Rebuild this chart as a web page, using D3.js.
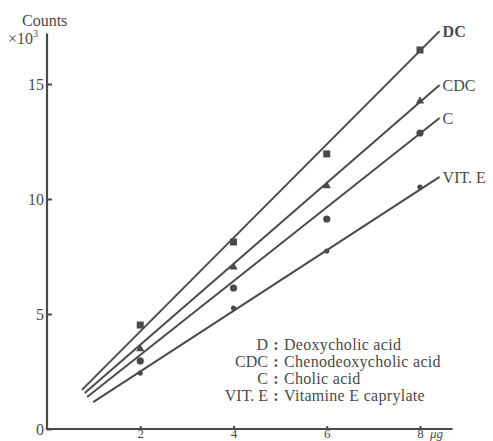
<!DOCTYPE html>
<html><head><meta charset="utf-8">
<script src="https://cdn.jsdelivr.net/npm/d3@7"></script>
<style>
html,body{margin:0;padding:0;background:#fff;}
svg{display:block;font-family:"Liberation Serif","DejaVu Serif",serif;}
</style></head>
<body><svg id="c" width="493" height="441"></svg>
<script>
// ---- data ----
const doses = [2, 4, 6, 8];                 // µg
const seriesNames = ["DC", "CDC", "C", "VIT. E"];
const dcCounts   = [4.52, 8.13, 11.96, 16.48];   // ×10^3
const cdcCounts  = [3.48, 7.04, 10.57, 14.26];
const cCounts    = [2.96, 6.13, 9.13, 12.87];
const viteCounts = [2.43, 5.26, 7.74, 10.52];
// fitted line end points [x0, y0, x1, y1]
const dcLine   = [0.75, 1.70, 8.42, 17.30];
const cdcLine  = [0.81, 1.57, 8.42, 14.96];
const cLine    = [0.86, 1.39, 8.42, 13.52];
const viteLine = [0.99, 1.17, 8.42, 10.96];
const yTicks = [0, 5, 10, 15];
const xTicks = [2, 4, 6, 8];
const legendKeys = ["D", "CDC", "C", "VIT. E"];
const legendTexts = ["Deoxycholic acid", "Chenodeoxycholic acid", "Cholic acid", "Vitamine E caprylate"];

const ink = "#4a4a4a";
const svg = d3.select("#c");
const x = d3.scaleLinear().domain([0, 8]).range([47, 420]);
const y = d3.scaleLinear().domain([0, 15]).range([429, 84]);

// axes
const yAxis = d3.axisLeft(y).tickValues(yTicks).tickSizeInner(-5).tickSizeOuter(0).tickPadding(3);
const gy = svg.append("g").attr("transform", `translate(${x(0)},0)`).call(yAxis);
gy.select(".domain").remove();
gy.selectAll(".tick line").attr("stroke", ink).attr("stroke-width", 2);
gy.selectAll(".tick text").attr("fill", ink).attr("font-size", 16).attr("font-family", "Liberation Serif");
svg.append("line").attr("x1", x(0)).attr("x2", x(0)).attr("y1", y(0) + 1).attr("y2", y(17.2))
  .attr("stroke", ink).attr("stroke-width", 2.2);

const xAxis = d3.axisBottom(x).tickValues(xTicks).tickSizeInner(-3).tickSizeOuter(0).tickPadding(0);
const gx = svg.append("g").attr("transform", `translate(0,${y(0)})`).call(xAxis);
gx.select(".domain").remove();
gx.selectAll(".tick line").attr("stroke", ink).attr("stroke-width", 2);
gx.selectAll(".tick text").attr("fill", ink).attr("font-size", 13).attr("font-family", "Liberation Serif");
svg.append("line").attr("x1", x(0) - 1).attr("x2", x(8.7)).attr("y1", y(0)).attr("y2", y(0))
  .attr("stroke", ink).attr("stroke-width", 2.2);
svg.append("text").attr("x", x(8) + 10).attr("y", y(0) + 9).attr("fill", ink)
  .attr("font-size", 13).attr("font-style", "italic").text("μg");

// axis title
svg.append("text").attr("x", 22).attr("y", 26).attr("fill", ink).attr("font-size", 16).text("Counts");
const t10 = svg.append("text").attr("x", 8).attr("y", 44).attr("fill", ink).attr("font-size", 16);
t10.append("tspan").text("×10");
t10.append("tspan").attr("dy", -7).attr("font-size", 10).text("3");

// lines
const lines = [dcLine, cdcLine, cLine, viteLine];
svg.append("g").selectAll("line").data(lines).join("line")
  .attr("x1", d => x(d[0])).attr("y1", d => y(d[1]))
  .attr("x2", d => x(d[2])).attr("y2", d => y(d[3]))
  .attr("stroke", ink).attr("stroke-width", 2);

// points
const zip = vals => doses.map((d, i) => ({x: d, y: vals[i]}));
svg.append("g").selectAll("rect").data(zip(dcCounts)).join("rect")
  .attr("x", d => x(d.x) - 3.5).attr("y", d => y(d.y) - 3.5).attr("width", 7).attr("height", 7).attr("fill", ink);
svg.append("g").selectAll("path").data(zip(cdcCounts)).join("path")
  .attr("transform", d => `translate(${x(d.x)},${y(d.y)})`)
  .attr("d", d3.symbol(d3.symbolTriangle, 30)).attr("fill", ink);
svg.append("g").selectAll("circle").data(zip(cCounts)).join("circle")
  .attr("cx", d => x(d.x)).attr("cy", d => y(d.y)).attr("r", 3.6).attr("fill", ink);
svg.append("g").selectAll("circle").data(zip(viteCounts)).join("circle")
  .attr("cx", d => x(d.x)).attr("cy", d => y(d.y)).attr("r", 2.6).attr("fill", ink);

// end labels
svg.append("g").selectAll("text").data(lines).join("text")
  .attr("x", d => x(d[2]) + 3).attr("y", d => y(d[3]) + 6)
  .attr("fill", ink).attr("font-size", 16)
  .attr("font-weight", (d, i) => i === 0 ? "bold" : "normal")
  .text((d, i) => seriesNames[i]);

// legend
const lg = svg.append("g").attr("fill", ink).attr("font-size", 16);
lg.selectAll("text.k").data(legendKeys).join("text").attr("class", "k")
  .attr("x", 268).attr("y", (d, i) => 350 + i * 17).attr("text-anchor", "end").text(d => d);
lg.selectAll("text.c").data(legendKeys).join("text").attr("class", "c")
  .attr("x", 276).attr("y", (d, i) => 350 + i * 17).attr("text-anchor", "middle").attr("font-weight", "bold").text(":");
lg.selectAll("text.v").data(legendTexts).join("text").attr("class", "v")
  .attr("x", 284).attr("y", (d, i) => 350 + i * 17).attr("letter-spacing", 0.3).text(d => d);
</script></body></html>
